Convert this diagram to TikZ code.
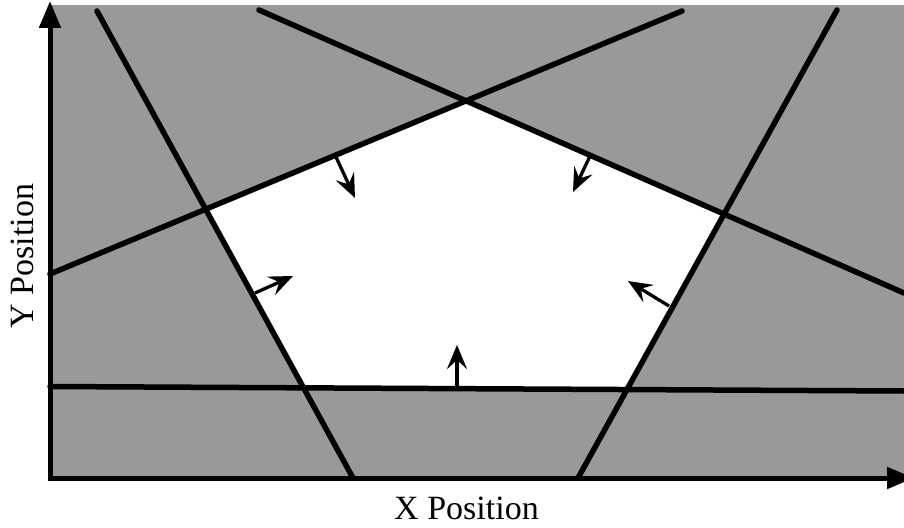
\documentclass[tikz,border=0pt]{standalone}
\usepackage{fontspec}
\setmainfont{Liberation Serif}
\usetikzlibrary{arrows.meta}
\definecolor{regiongray}{RGB}{153,153,153}
\begin{document}
\begin{tikzpicture}[x=1pt,y=-1pt,
  bound/.style={line width=5.5pt,line cap=round},
  normalarrow/.style={line width=3.3pt,-{Stealth[length=24pt,width=20pt,inset=9pt]}},
  axisline/.style={line width=5pt,{Triangle[length=27pt,width=21pt]}-{Triangle[length=27pt,width=21pt]}},
  lab/.style={font=\fontsize{34}{40}\selectfont,inner sep=0pt}]
\useasboundingbox (0,0) rectangle (904,527);
\fill[regiongray] (50,5) rectangle (904,478);
% constraint lines
\coordinate (l1a) at (97,11);   \coordinate (l1b) at (353,478);
\coordinate (l2a) at (50,274);  \coordinate (l2b) at (682,11);
\coordinate (l3a) at (259,10);  \coordinate (l3b) at (904,293);
\coordinate (l4a) at (837,10);  \coordinate (l4b) at (578,478);
\coordinate (l5a) at (50,386.5);\coordinate (l5b) at (904,391);
% feasible region vertices
\coordinate (A) at (intersection of l1a--l1b and l2a--l2b);
\coordinate (B) at (intersection of l2a--l2b and l3a--l3b);
\coordinate (C) at (intersection of l3a--l3b and l4a--l4b);
\coordinate (D) at (intersection of l4a--l4b and l5a--l5b);
\coordinate (E) at (intersection of l5a--l5b and l1a--l1b);
\fill[white] (A) -- (B) -- (C) -- (D) -- (E) -- cycle;
\draw[bound] (l1a) -- (l1b);
\draw[bound] (l2a) -- (l2b);
\draw[bound] (l3a) -- (l3b);
\draw[bound] (l4a) -- (l4b);
\draw[bound] (l5a) -- (l5b);
% inward normals
\coordinate (n1s) at (457,388); \coordinate (n1e) at (457,345);
\coordinate (n2s) at (255,293); \coordinate (n2e) at (293,276);
\coordinate (n3s) at (336,157); \coordinate (n3e) at (355,198);
\coordinate (n4s) at (590,156); \coordinate (n4e) at (573,192);
\coordinate (n5s) at (669,306); \coordinate (n5e) at (628,281);
\draw[normalarrow] (n1s) -- (n1e);
\draw[normalarrow] (n2s) -- (n2e);
\draw[normalarrow] (n3s) -- (n3e);
\draw[normalarrow] (n4s) -- (n4e);
\draw[normalarrow] (n5s) -- (n5e);
% axes
\coordinate (ytip) at (50,1);
\coordinate (origin) at (50,478);
\coordinate (xtip) at (914,478);
\draw[axisline] (ytip) -- (origin) -- (xtip);
\node[lab,anchor=base] (xlabel) at (466.5,519) {X Position};
\node[lab,rotate=90,anchor=base] (ylabel) at (33,256) {Y Position};
\end{tikzpicture}
\end{document}
